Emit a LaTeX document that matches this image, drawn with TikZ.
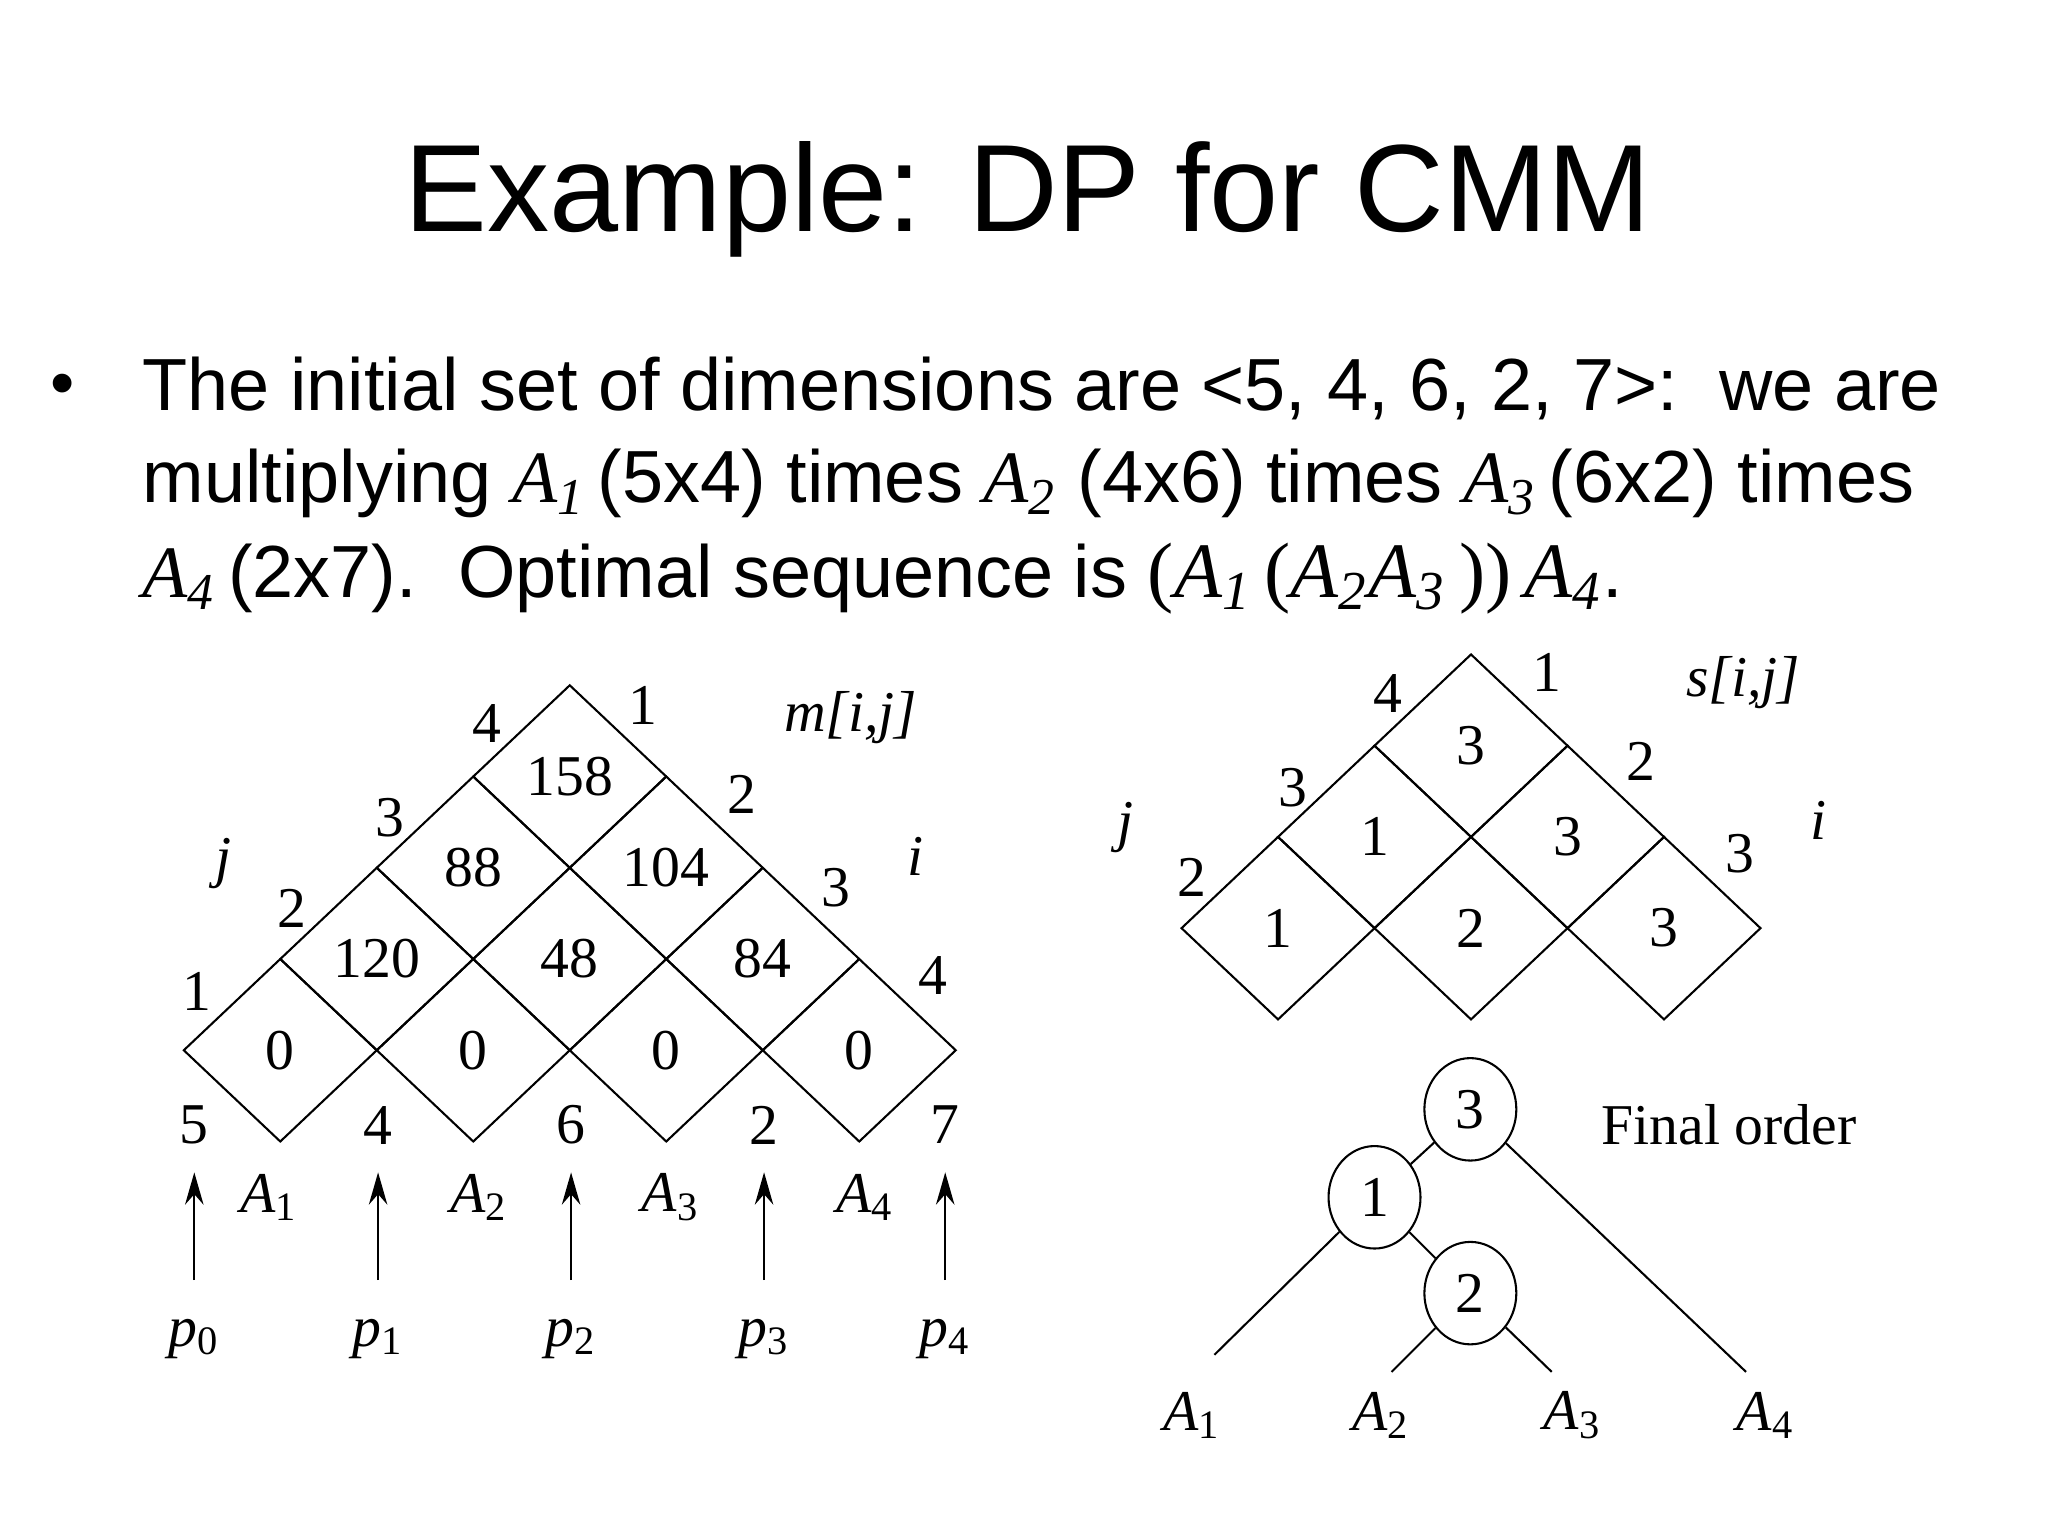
\documentclass[tikz,border=0pt]{standalone}
\usepackage{fontspec}
\setmainfont{Liberation Serif}
\newfontfamily\sansf{Liberation Sans}
\usetikzlibrary{arrows.meta,shapes.geometric}
\newcommand{\mA}[1]{{\rmfamily\itshape A\textsubscript{#1}}}
\begin{document}
\begin{tikzpicture}[x=0.01cm,y=-0.01cm,
  lab/.style={inner sep=0pt,font=\fontsize{12.5}{14}\selectfont},
  ilab/.style={inner sep=0pt,font=\fontsize{12.5}{14}\selectfont\itshape},
  grid/.style={line width=0.45pt},
  tnode/.style={draw,ellipse,minimum width=0.7cm,minimum height=0.78cm,inner sep=0pt,line width=0.45pt,font=\fontsize{12.5}{14}\selectfont},
  body/.style={anchor=base west,inner sep=0pt,font=\sansf\fontsize{16}{18}\selectfont}]
\useasboundingbox (0,0) rectangle (1560,1170);
\node[font=\sansf\fontsize{26.9}{30}\selectfont,inner sep=0pt] (title) at (783,152) {Example: DP for CMM};
\node[font=\sansf\fontsize{15}{16}\selectfont,inner sep=0pt] (bul) at (48,297) {•};
\node[body] (l1) at (108,313) {The initial set of dimensions are <5, 4, 6, 2, 7>:\ \ we are};
\node[body] (l2) at (108,383) {multiplying \mA{1}\,(5x4) times \mA{2} (4x6) times \mA{3}\,(6x2) times};
\node[body] (l3) at (108,455) {\mA{4}\,(2x7).\ \ Optimal sequence is {\rmfamily\fontsize{17}{18}\selectfont(\mA{1}\,(\mA{2}\mA{3}\,))\,\mA{4}}.};
% m grid
\def\h{73.5}\def\v{69.5}
\foreach \a in {0,...,3}{\foreach \b in {0,...,\a}{
  \draw[grid] ({140+\h*(\a+\b)},{800-\v*(\a-\b)}) -- ++(\h,-\v) -- ++(\h,\v) -- ++(-\h,\v) -- cycle;}}
\foreach \a/\b/\t/\n in {0/0/0/m00,1/1/0/m11,2/2/0/m22,3/3/0/m33,1/0/120/m10,2/1/48/m21,3/2/84/m32,2/0/88/m20,3/1/104/m31,3/0/158/m30}
  \node[lab] (\n) at ({140+\h*(\a+\b+1)},{800-\v*(\a-\b)}) {\t};
% s grid
\foreach \a in {0,...,2}{\foreach \b in {0,...,\a}{
  \draw[grid] ({900+\h*(\a+\b)},{707-\v*(\a-\b)}) -- ++(\h,-\v) -- ++(\h,\v) -- ++(-\h,\v) -- cycle;}}
\foreach \a/\b/\t/\n in {0/0/1/s00,1/1/2/s11,2/2/3/s22,1/0/1/s10,2/1/3/s21,2/0/3/s20}
  \node[lab] (\n) at ({900+\h*(\a+\b+1)},{707-\v*(\a-\b)}) {\t};
% m labels
\foreach \t/\x/\y/\n in {1/150/755/j1,2/222/692/j2,3/297/623/j3,4/371/551/j4,1/490/537/i1,2/565/605/i2,3/637/676/i3,4/711/743/i4}
  \node[lab] (\n) at (\x,\y) {\t};
\node[ilab] (jl) at (170,658) {j};
\node[ilab] (il) at (697,652) {i};
\node[ilab] (mij) at (648,547) {m[i,j]};
% s labels
\foreach \t/\x/\y/\n in {4/1057/528/sj4,3/985/600/sj3,2/908/668/sj2,1/1178/512/si1,2/1250/580/si2,3/1325/650/si3}
  \node[lab] (\n) at (\x,\y) {\t};
\node[ilab] (sj) at (857,630) {j};
\node[ilab] (si) at (1385,625) {i};
\node[ilab] (sij) at (1328,520) {s[i,j]};
% dims
\foreach \t/\x/\k in {5/148/0,4/288/1,6/435/2,2/582/3,7/720/4}{
  \node[lab] (d\k) at (\x,857) {\t};
  \node[ilab] (p\k) at (\x,1020) {p\textsubscript{\upshape\k}};
  \coordinate (pt\k) at (\x,975);
  \coordinate (ph\k) at (\x,893);
  \draw[line width=0.45pt,-{Stealth[length=7pt,width=4pt]}] (pt\k) -- (ph\k);}
\foreach \k/\x in {1/205,2/365,3/511,4/659}
  \node[ilab] (A\k) at (\x,912) {A\textsubscript{\upshape\k}};
% tree
\node[tnode] (t3) at (1120,845) {3};
\node[tnode] (t1) at (1047,912) {1};
\node[tnode] (t2) at (1120,985) {2};
\coordinate (e1) at (925,1032);
\coordinate (e2) at (1060,1045);
\coordinate (e3) at (1182,1045);
\coordinate (e4) at (1330,1045);
\draw[line width=0.45pt] (t3) -- (t1) (t3) -- (e4) (t1) -- (e1) (t1) -- (t2) (t2) -- (e2) (t2) -- (e3);
\foreach \k/\x in {1/908,2/1052,3/1198,4/1345}
  \node[ilab] (L\k) at (\x,1078) {A\textsubscript{\upshape\k}};
\node[lab] (fo) at (1317,857) {Final order};
\end{tikzpicture}
\end{document}
